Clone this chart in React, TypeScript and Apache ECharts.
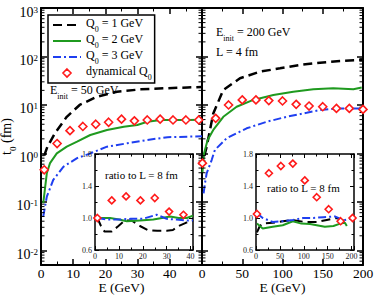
import React, { useEffect, useRef } from 'react';
import * as echarts from 'echarts';

const FONT = "'Liberation Serif', 'Times New Roman', serif";
const GREEN = '#1f9a1f';
const BLUE = '#1f3ff0';
const RED = '#ff1a1a';

// ---- Left main panel (E_init = 50 GeV) ----
const leftQ1E = [1, 2, 4.4, 8, 12, 17.4, 23.6, 31, 38, 45.5, 50];
const leftQ1 = [0.9, 1.38, 2.65, 5.7, 10, 14.8, 18.8, 21, 22, 23, 23.5];
const leftQ2E = [0.7, 1.8, 2.8, 4.9, 8, 11.2, 15.3, 20.5, 25.7, 29.9, 33, 37.2, 45.5, 50];
const leftQ2 = [0.094, 0.39, 0.63, 1.0, 1.38, 1.75, 2.4, 3.05, 3.57, 3.87, 4.5, 4.9, 4.9, 4.95];
const leftQ3E = [0.7, 1.8, 3.8, 7, 11.2, 15.3, 20.5, 26.8, 33, 39.3, 45.5, 50];
const leftQ3 = [0.05, 0.128, 0.284, 0.535, 0.8, 1.0, 1.38, 1.62, 1.9, 2.16, 2.22, 2.25];
const leftDynE = [1, 5, 9, 13, 17, 21, 25, 29, 33, 37, 41, 45, 49];
const leftDyn = [0.46, 1.6, 2.95, 3.6, 4.0, 4.4, 5.1, 4.7, 4.9, 5.1, 4.9, 4.9, 4.9];

// ---- Right main panel (E_init = 200 GeV, L = 4 fm) ----
const rightQ1E = [3, 5.8, 14, 26.5, 47.2, 72, 96.9, 121.7, 146.6, 171.4, 196, 200];
const rightQ1 = [0.9, 1.38, 6.7, 20.4, 35.5, 48.6, 57, 67, 74.5, 80.7, 84.7, 86];
const rightQ2E = [0.5, 2.5, 7, 14, 26.5, 43, 63.7, 88.6, 113.4, 138.3, 163, 188, 198.4];
const rightQ2 = [0.4, 1.0, 1.9, 3.05, 5.7, 9.2, 12.7, 16, 18.8, 21, 22, 21, 23];
const rightQ3E = [2, 3.7, 5.8, 12, 16, 30.7, 55.5, 80.4, 105, 130, 146.6, 171, 196, 200];
const rightQ3 = [0.15, 0.243, 0.39, 0.73, 1.18, 2.06, 3.3, 4.5, 5.7, 6.9, 7.9, 8.5, 8.5, 8.5];
const rightDynE = [0.5, 17, 33, 50, 67, 83, 100, 117, 133, 150, 167, 183, 200];
const rightDyn = [0.63, 5.3, 10, 12.7, 12.7, 12.3, 12.1, 10.3, 9.5, 9.2, 8.5, 8.5, 8.1];

// ---- Left inset: ratio to L = 8 fm ----
const insLQ1E = [1, 2.5, 4, 7, 9.8, 12.5, 15.3, 18.8, 22, 26, 30, 32.6, 35, 38, 41];
const insLQ1 = [1.0, 0.9, 0.83, 0.83, 0.9, 0.97, 0.97, 0.9, 0.85, 0.84, 0.84, 0.85, 0.9, 0.94, 0.97];
const insLQ2E = [1, 6.3, 10, 13.3, 18.8, 24.4, 28, 31.4, 35, 38.4, 41];
const insLQ2 = [1.0, 1.0, 0.98, 0.96, 0.97, 0.98, 1.0, 1.02, 1.0, 1.0, 1.03];
const insLQ3E = [1, 5, 10, 15, 20, 25.8, 30, 34, 38, 41];
const insLQ3 = [1.0, 0.98, 0.98, 0.99, 0.99, 1.04, 0.99, 0.98, 0.97, 0.97];
const insLDynE = [1, 7, 13, 19, 25, 31, 37];
const insLDyn = [1.0, 1.22, 1.27, 1.22, 1.25, 1.08, 1.04];

// ---- Right inset: ratio to L = 8 fm ----
const insRQ1E = [2, 8, 14, 35, 56, 77, 102, 127, 148, 169, 190];
const insRQ1 = [0.82, 0.9, 0.93, 0.94, 0.96, 0.975, 0.95, 0.95, 0.975, 1.0, 0.95];
const insRQ2E = [2, 14, 35, 56, 77, 95, 113, 127, 144, 162, 176, 186, 190];
const insRQ2 = [0.93, 0.87, 0.89, 0.91, 0.96, 0.93, 0.925, 0.91, 0.89, 0.9, 0.93, 0.94, 0.9];
const insRQ3E = [2, 14, 35, 56, 77, 98.5, 120, 141, 165, 183, 204];
const insRQ3 = [1.06, 1.0, 0.95, 0.96, 0.975, 1.0, 1.0, 1.01, 1.02, 0.97, 1.0];
const insRDynE = [2, 27, 52, 77, 102, 127, 152, 177, 202];
const insRDyn = [1.05, 1.56, 1.65, 1.68, 1.47, 1.26, 1.11, 0.96, 1.0];

// axis ranges / tick values
const mainYMin = 0.005;
const mainYMax = 1000;
const insetYTicks = [0.6, 1.0, 1.4, 1.8];
const names = ['Q0 = 1 GeV', 'Q0 = 2 GeV', 'Q0 = 3 GeV', 'dynamical Q0'];

const logMinor: number[] = [];
for (let d = -3; d <= 2; d++) {
  for (let k = 2; k <= 9; k++) {
    const v = k * Math.pow(10, d);
    if (v >= mainYMin && v <= mainYMax) logMinor.push(v);
  }
}

const zip = (xs: number[], ys: number[]) => xs.map((x, i) => [x, ys[i]]);

const subRich = {
  b: { fontFamily: FONT, fontSize: 12, lineHeight: 16, verticalAlign: 'top', color: '#000' },
  sub: { fontFamily: FONT, fontSize: 8, lineHeight: 8, verticalAlign: 'bottom', color: '#000' },
};

// diamond icon padded to the legend item box (28 x 8) so it is not stretched
const DIAMOND_ICON = 'path://M0,4L0.01,4M28,4L27.99,4M14,0L18,4L14,8L10,4Z';

export default function App() {
  const ref = useRef<HTMLDivElement>(null);
  useEffect(() => {
    if (!ref.current) return;
    const chart = echarts.init(ref.current, null, { renderer: 'svg' });

    const gridBase = { outerBoundsMode: 'none', containLabel: false };
    const grids = [
      { ...gridBase, left: 41, top: 8, width: 161, height: 257 },
      { ...gridBase, left: 202, top: 8, width: 161, height: 257 },
      { ...gridBase, left: 95, top: 154, width: 98, height: 96, backgroundColor: '#fff', show: true, borderWidth: 0, z: 5 },
      { ...gridBase, left: 256, top: 154, width: 98, height: 96, backgroundColor: '#fff', show: true, borderWidth: 0, z: 5 },
    ];

    const mainLine = { lineStyle: { color: '#000', width: 2 } };
    const insetLine = { lineStyle: { color: '#000', width: 1.5 } };

    const mainX = (gi: number, max: number, interval: number, pos: 'bottom' | 'top', labels: boolean, hideLast: boolean) => ({
      type: 'value', gridIndex: gi, min: 0, max, interval, position: pos,
      axisLine: { show: true, onZero: false, ...mainLine },
      axisTick: { show: true, inside: true, length: 6, lineStyle: { color: '#000', width: 1.5 } },
      minorTick: { show: true, splitNumber: 2, length: 3.5, lineStyle: { color: '#000', width: 1 } },
      splitLine: { show: false },
      axisLabel: {
        show: labels, margin: 2, fontFamily: FONT, fontSize: 13.5, lineHeight: 13, color: '#000',
        formatter: (v: number) => (hideLast && v === max ? '' : String(v)),
      },
      name: labels ? 'E (GeV)' : '', nameLocation: 'middle', nameGap: 16, nameMoveOverlap: false,
      nameTextStyle: { fontFamily: FONT, fontSize: 13.5, lineHeight: 13, color: '#000', verticalAlign: 'top' },
    });

    const mainY = (gi: number, pos: 'left' | 'right', labels: boolean, named: boolean) => ({
      type: 'log', logBase: 10, gridIndex: gi, min: mainYMin, max: mainYMax, position: pos,
      axisLine: { show: true, onZero: false, ...mainLine },
      axisTick: { show: true, inside: true, length: 6, lineStyle: { color: '#000', width: 1.5 } },
      splitLine: { show: false },
      axisLabel: {
        show: labels, margin: 3, color: '#000',
        formatter: (v: number) => {
          const l = Math.log10(v);
          const e = Math.round(l);
          if (Math.abs(l - e) > 1e-6) return '';
          return `{b|10}{s|${e}}`;
        },
        rich: {
          b: { fontFamily: FONT, fontSize: 14, lineHeight: 14, padding: [8, 0, 0, 0], color: '#000' },
          s: { fontFamily: FONT, fontSize: 9, lineHeight: 9, padding: [4, 0, 0, 0], verticalAlign: 'top', color: '#000' },
        },
      },
      name: named ? '{b|t}{sub|0}{b| (fm)}' : '', nameLocation: 'middle', nameGap: 24, nameRotate: 90,
      nameMoveOverlap: false,
      nameTextStyle: {
        rich: {
          b: { fontFamily: FONT, fontSize: 14, lineHeight: 18, verticalAlign: 'top', color: '#000' },
          sub: { fontFamily: FONT, fontSize: 9, lineHeight: 9, verticalAlign: 'bottom', color: '#000' },
        },
      },
    });

    const insetX = (gi: number, max: number, interval: number, pos: 'bottom' | 'top', labels: boolean) => ({
      type: 'value', gridIndex: gi, min: 0, max, interval, position: pos, z: 6,
      axisLine: { show: true, onZero: false, ...insetLine },
      axisTick: { show: true, inside: true, length: 4, lineStyle: { color: '#000', width: 1 } },
      minorTick: { show: true, splitNumber: 2, length: 2.5, lineStyle: { color: '#000', width: 1 } },
      splitLine: { show: false },
      axisLabel: {
        show: labels, margin: 2, fontFamily: FONT, fontSize: 8, color: '#222',
        formatter: (v: number) => (v % interval === 0 ? String(v) : ''),
      },
    });

    const insetY = (gi: number, pos: 'left' | 'right', labels: boolean) => ({
      type: 'value', gridIndex: gi, min: insetYTicks[0], max: insetYTicks[insetYTicks.length - 1], interval: 0.4, position: pos, z: 6,
      axisLine: { show: true, onZero: false, ...insetLine },
      axisTick: { show: true, inside: true, length: 4, lineStyle: { color: '#000', width: 1 } },
      minorTick: { show: true, splitNumber: 2, length: 2.5, lineStyle: { color: '#000', width: 1 } },
      splitLine: { show: false },
      axisLabel: {
        show: labels, margin: 3, fontFamily: FONT, fontSize: 8, color: '#222',
        formatter: (v: number) => v.toFixed(1),
      },
    });

    const q1Style = { color: '#000', width: 2.5, type: [9, 5] };
    const q2Style = { color: GREEN, width: 2, type: 'solid' };
    const q3Style = { color: BLUE, width: 2, type: [8, 3, 2, 3] };

    const lineSeries = (name: string, xi: number, yi: number, data: number[][], style: any, z: number, w?: number) => ({
      type: 'line', name, xAxisIndex: xi, yAxisIndex: yi, data, symbol: 'none', smooth: false,
      lineStyle: { ...style, width: w ?? style.width }, itemStyle: { color: style.color }, z, clip: true,
    });
    const dynSeries = (xi: number, yi: number, data: number[][], z: number, size: number) => ({
      type: 'scatter', name: names[3], xAxisIndex: xi, yAxisIndex: yi, data, symbol: 'diamond', symbolSize: size,
      itemStyle: { color: '#fff', borderColor: RED, borderWidth: 1.6, opacity: 1 }, z, clip: false,
    });

    const minorTickSeries = (xi: number, yi: number) => ({
      type: 'custom', xAxisIndex: xi, yAxisIndex: yi, silent: true, clip: false, z: 3,
      data: logMinor.map((v) => [1, v]),
      renderItem: (params: any, api: any) => {
        const cs = params.coordSys;
        const y = api.coord([1, api.value(1)])[1];
        const len = 3.5;
        return {
          type: 'group',
          children: [
            { type: 'line', shape: { x1: cs.x, y1: y, x2: cs.x + len, y2: y }, style: { stroke: '#000', lineWidth: 1 } },
            { type: 'line', shape: { x1: cs.x + cs.width - len, y1: y, x2: cs.x + cs.width, y2: y }, style: { stroke: '#000', lineWidth: 1 } },
          ],
        };
      },
    });

    const option: any = {
      animation: false,
      backgroundColor: '#fff',
      grid: grids,
      xAxis: [
        mainX(0, 50, 10, 'bottom', true, true),
        mainX(0, 50, 10, 'top', false, true),
        mainX(1, 200, 50, 'bottom', true, false),
        mainX(1, 200, 50, 'top', false, false),
        insetX(2, 41, 10, 'bottom', true),
        insetX(2, 41, 10, 'top', false),
        insetX(3, 205, 50, 'bottom', true),
        insetX(3, 205, 50, 'top', false),
      ],
      yAxis: [
        mainY(0, 'left', true, true),
        mainY(0, 'right', false, false),
        mainY(1, 'left', false, false),
        mainY(1, 'right', false, false),
        insetY(2, 'left', true),
        insetY(2, 'right', false),
        insetY(3, 'left', true),
        insetY(3, 'right', false),
      ],
      legend: {
        data: [
          { name: names[0], itemStyle: { opacity: 0 } },
          { name: names[1], itemStyle: { opacity: 0 } },
          { name: names[2], itemStyle: { opacity: 0 } },
          { name: names[3], icon: DIAMOND_ICON, itemStyle: { color: '#fff', borderColor: RED, borderWidth: 1.6 } },
        ],
        orient: 'vertical',
        left: 48, top: 15,
        padding: [2, 3, 2, 4],
        itemGap: 0,
        itemWidth: 28, itemHeight: 8,
        borderColor: '#000', borderWidth: 1.5, borderRadius: 0,
        backgroundColor: '#fff',
        selectedMode: false,
        formatter: (n: string) => {
          const parts = n.split('Q0');
          if (parts.length === 1) return `{b|${n}}`;
          const pre = parts[0] ? `{b|${parts[0]}}` : '';
          const post = parts[1] ? `{b|${parts[1]}}` : '';
          return `${pre}{b|Q}{sub|0}${post}`;
        },
        textStyle: { fontFamily: FONT, fontSize: 12, color: '#000', rich: subRich },
      },
      graphic: [
        { type: 'text', x: 50, y: 84, z: 20, style: { text: '{b|E}{sub|init}{b| = 50 GeV}', rich: subRich } },
        { type: 'text', x: 216, y: 26, z: 20, style: { text: '{b|E}{sub|init}{b| = 200 GeV}', rich: subRich } },
        { type: 'text', x: 216, y: 46, z: 20, style: { text: 'L = 4 fm', fontFamily: FONT, fontSize: 12, fill: '#000' } },
        { type: 'text', x: 105, y: 169, z: 20, style: { text: 'ratio to L = 8 fm', fontFamily: FONT, fontSize: 11, fill: '#000' } },
        { type: 'text', x: 267, y: 182, z: 20, style: { text: 'ratio to L = 8 fm', fontFamily: FONT, fontSize: 11, fill: '#000' } },
      ],
      series: [
        lineSeries(names[0], 0, 0, zip(leftQ1E, leftQ1), q1Style, 2),
        lineSeries(names[1], 0, 0, zip(leftQ2E, leftQ2), q2Style, 2),
        lineSeries(names[2], 0, 0, zip(leftQ3E, leftQ3), q3Style, 2),
        dynSeries(0, 0, zip(leftDynE, leftDyn), 3, 8),
        lineSeries(names[0], 2, 2, zip(rightQ1E, rightQ1), q1Style, 2),
        lineSeries(names[1], 2, 2, zip(rightQ2E, rightQ2), q2Style, 2),
        lineSeries(names[2], 2, 2, zip(rightQ3E, rightQ3), q3Style, 2),
        dynSeries(2, 2, zip(rightDynE, rightDyn), 3, 8),
        minorTickSeries(0, 0),
        minorTickSeries(2, 2),
        lineSeries(names[0], 4, 4, zip(insLQ1E, insLQ1), q1Style, 8, 2),
        lineSeries(names[1], 4, 4, zip(insLQ2E, insLQ2), q2Style, 8, 2),
        lineSeries(names[2], 4, 4, zip(insLQ3E, insLQ3), q3Style, 8, 2),
        dynSeries(4, 4, zip(insLDynE, insLDyn), 9, 7),
        lineSeries(names[0], 6, 6, zip(insRQ1E, insRQ1), q1Style, 8, 2),
        lineSeries(names[1], 6, 6, zip(insRQ2E, insRQ2), q2Style, 8, 2),
        lineSeries(names[2], 6, 6, zip(insRQ3E, insRQ3), q3Style, 8, 2),
        dynSeries(6, 6, zip(insRDynE, insRDyn), 9, 7),
      ],
    };
    chart.setOption(option);
    return () => chart.dispose();
  }, []);
  return (
    <div
      ref={ref}
      style={{ position: 'fixed', left: 0, top: 0, width: 374, height: 295, background: '#fff' }}
    />
  );
}
